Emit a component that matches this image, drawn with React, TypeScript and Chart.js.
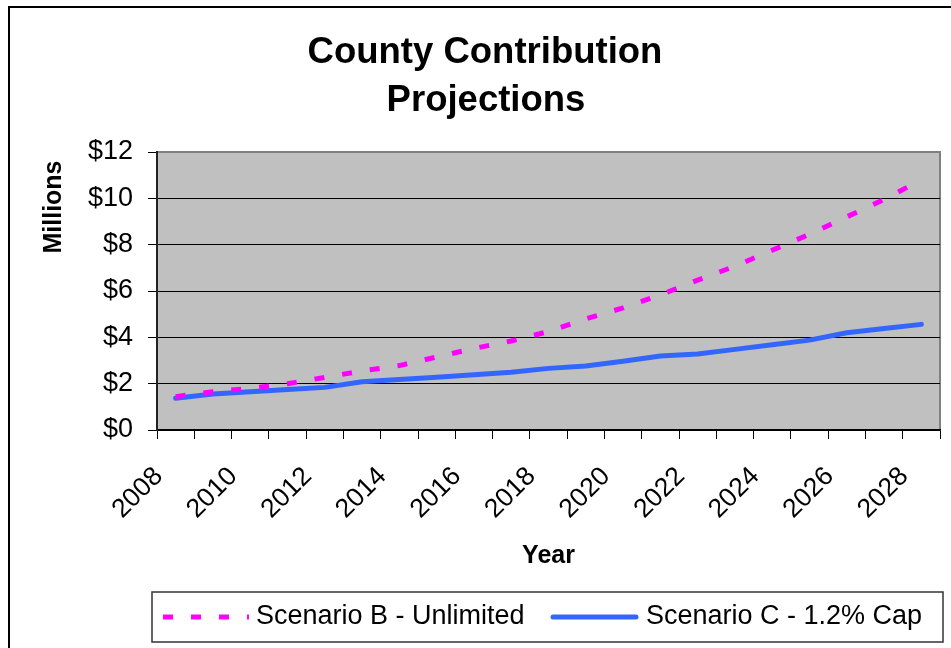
import React, { useEffect, useRef } from 'react';
import { Chart, registerables } from 'chart.js';

Chart.register(...registerables);

const years = ['2008', '2009', '2010', '2011', '2012', '2013', '2014', '2015', '2016', '2017', '2018',
  '2019', '2020', '2021', '2022', '2023', '2024', '2025', '2026', '2027', '2028'];
const scenarioB = [1.44, 1.65, 1.8, 2.0, 2.27, 2.55, 2.78, 3.15, 3.52, 3.84, 4.25,
  4.8, 5.27, 5.83, 6.47, 7.07, 7.76, 8.45, 9.2, 9.95, 10.8];
const scenarioC = [1.37, 1.55, 1.65, 1.75, 1.84, 2.08, 2.18, 2.28, 2.39, 2.49, 2.66,
  2.76, 2.97, 3.19, 3.28, 3.48, 3.68, 3.88, 4.2, 4.38, 4.56];
const titleLines = ['County Contribution', 'Projections'];
const seriesNames = ['Scenario B - Unlimited', 'Scenario C - 1.2% Cap'];
const yTitle = 'Millions';
const xTitle = 'Year';

const FONT = '"Liberation Sans", Arial, sans-serif';
const MAGENTA = '#FF00FF';
const BLUE = '#3366FF';

const decor = {
  id: 'decor',
  beforeDraw(chart: any) {
    const { ctx, chartArea: a } = chart;
    ctx.save();
    ctx.fillStyle = '#ffffff';
    ctx.fillRect(0, 0, chart.width, chart.height);
    ctx.strokeStyle = '#000';
    ctx.lineWidth = 2;
    ctx.strokeRect(9, 7, chart.width + 40, chart.height + 40);
    ctx.fillStyle = '#C0C0C0';
    ctx.fillRect(a.left, a.top, a.right - a.left, a.bottom - a.top);
    ctx.strokeStyle = '#808080';
    ctx.lineWidth = 2;
    ctx.strokeRect(a.left, a.top, a.right - a.left, a.bottom - a.top);
    ctx.restore();
  },
  afterDraw(chart: any) {
    const { ctx } = chart;
    ctx.save();
    ctx.fillStyle = '#000';
    ctx.textAlign = 'center';
    ctx.textBaseline = 'middle';
    ctx.font = `bold 36.5px ${FONT}`;
    ctx.fillText(titleLines[0], 485, 53);
    ctx.fillText(titleLines[1], 486, 101);

    ctx.save();
    ctx.translate(54, 207);
    ctx.rotate(-Math.PI / 2);
    ctx.font = `bold 25px ${FONT}`;
    ctx.fillText(yTitle, 0, 0);
    ctx.restore();

    // legend
    ctx.strokeStyle = '#333';
    ctx.lineWidth = 1.5;
    ctx.strokeRect(152, 592, 791, 50);
    const ly = 617;
    ctx.lineWidth = 5;
    ctx.strokeStyle = MAGENTA;
    ctx.setLineDash([10, 18]);
    ctx.lineCap = 'butt';
    ctx.beginPath();
    ctx.moveTo(163, ly);
    ctx.lineTo(249, ly);
    ctx.stroke();
    ctx.setLineDash([]);
    ctx.strokeStyle = BLUE;
    ctx.lineCap = 'round';
    ctx.beginPath();
    ctx.moveTo(553, ly);
    ctx.lineTo(636, ly);
    ctx.stroke();
    ctx.font = `27px ${FONT}`;
    ctx.textAlign = 'left';
    ctx.fillStyle = '#000';
    ctx.fillText(seriesNames[0], 256, ly);
    ctx.fillText(seriesNames[1], 646, ly);
    ctx.restore();
  },
};

export default function App() {
  const ref = useRef<HTMLCanvasElement>(null);
  useEffect(() => {
    if (!ref.current) return;
    const chart = new Chart(ref.current, {
      type: 'line',
      data: {
        labels: years,
        datasets: [
          {
            label: seriesNames[0],
            data: scenarioB,
            borderColor: MAGENTA,
            backgroundColor: MAGENTA,
            borderWidth: 5,
            borderDash: [10, 18],
            borderCapStyle: 'butt',
            pointRadius: 0,
            tension: 0,
            fill: false,
          },
          {
            label: seriesNames[1],
            data: scenarioC,
            borderColor: BLUE,
            backgroundColor: BLUE,
            borderWidth: 5,
            borderCapStyle: 'round',
            borderJoinStyle: 'round',
            pointRadius: 0,
            tension: 0,
            fill: false,
          },
        ],
      },
      options: {
        responsive: false,
        animation: false,
        devicePixelRatio: 1,
        layout: { padding: { top: 152, right: 11, left: 0, bottom: 0 } },
        plugins: {
          legend: { display: false },
          title: { display: false },
          tooltip: { enabled: false },
        },
        scales: {
          x: {
            type: 'category',
            offset: true,
            grid: {
              offset: true,
              drawOnChartArea: false,
              drawTicks: true,
              tickLength: 9,
              tickColor: '#000',
              tickWidth: 1,
            },
            border: { display: true, color: '#000', width: 1.5 },
            ticks: {
              autoSkip: false,
              maxRotation: 45,
              minRotation: 45,
              padding: 22,
              labelOffset: -17,
              color: '#000',
              font: { family: FONT, size: 26.5 },
              callback: (_v: any, i: number) => (i % 2 === 0 ? years[i] : ''),
            },
            title: {
              display: true,
              text: xTitle,
              color: '#000',
              font: { family: FONT, size: 25, weight: 'bold' },
              padding: { top: 0, bottom: 77 },
            },
            afterFit: (s: any) => {
              s.height = 218;
              s.paddingLeft = 0;
              s.paddingRight = 0;
            },
          },
          y: {
            min: 0,
            max: 12,
            grid: {
              color: (c: any) => (c.tick && c.tick.value === 12 ? 'rgba(0,0,0,0)' : '#000'),
              lineWidth: 1,
              tickColor: '#000',
              tickLength: 9,
              drawTicks: true,
            },
            border: { display: true, color: '#222', width: 2 },
            ticks: {
              stepSize: 2,
              padding: 15,
              color: '#000',
              font: { family: FONT, size: 27 },
              callback: (v: any) => '$' + v,
            },
            afterFit: (s: any) => {
              s.width = 157;
              s.paddingTop = 0;
              s.paddingBottom = 0;
            },
          },
        },
      },
      plugins: [decor],
    });
    return () => chart.destroy();
  }, []);
  return (
    <div style={{ position: 'fixed', left: 0, top: 0, width: 951, height: 648 }}>
      <canvas ref={ref} width={951} height={648} style={{ display: 'block', width: 951, height: 648 }} />
    </div>
  );
}
